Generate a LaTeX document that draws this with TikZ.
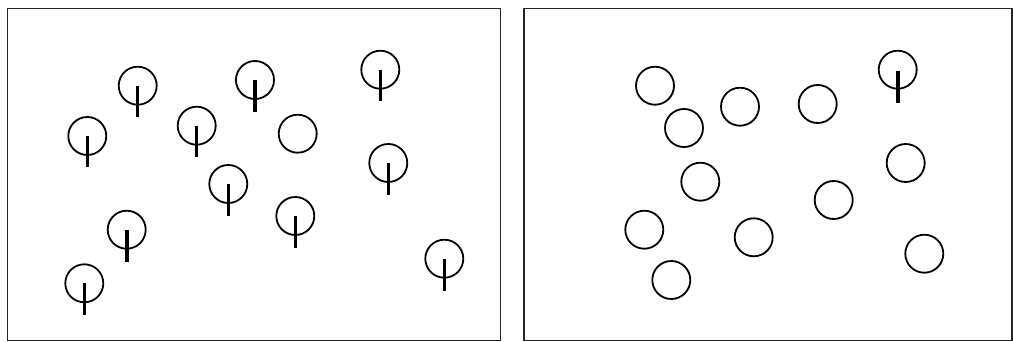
\documentclass[tikz,border=0pt]{standalone}
\usepackage{tikz}

\begin{document}
\begin{tikzpicture}[x=1pt, y=-1pt,
  panel/.style={draw=black!85, line width=1.5pt},
  ring/.style={circle, draw=black, line width=1.8pt, minimum size=38pt, inner sep=0pt},
  stem/.style={draw=black, line width=3pt},
  fatstem/.style={draw=black, line width=4pt},
]
  \useasboundingbox (0,0) rectangle (1013,342);

  % left panel
  \draw[panel] (7.5,8.5) rectangle (500.5,340.5);
  \node[ring] (a1)  at (137.7,85.7)  {};
  \node[ring] (a2)  at (87.3,136)    {};
  \node[ring] (a3)  at (196.7,125.7) {};
  \node[ring] (a4)  at (255,80)      {};
  \node[ring] (a5)  at (297.7,133.7) {};
  \node[ring] (a6)  at (380.3,69.7)  {};
  \node[ring] (a7)  at (388.3,163)   {};
  \node[ring] (a8)  at (228.3,184)   {};
  \node[ring] (a9)  at (295.3,216)   {};
  \node[ring] (a10) at (126.7,229.7) {};
  \node[ring] (a11) at (84.3,283.3)  {};
  \node[ring] (a12) at (444.3,258.7) {};

  % stems, left panel
  \draw[stem]    (a1.center)  -- ++(0,31);
  \draw[stem]    (a2.center)  -- ++(0,31);
  \draw[stem]    (a3.center)  -- ++(0,31);
  \draw[fatstem] (a4.center)  -- ++(0,32);
  \draw[stem]    (a6.center)  -- ++(0,31);
  \draw[stem]    (a7.center)  -- ++(0,32);
  \draw[stem]    (a8.center)  -- ++(0,32);
  \draw[stem]    (a9.center)  -- ++(0,32);
  \draw[fatstem] (a10.center) -- ++(0,32);
  \draw[stem]    (a11.center) -- ++(0,32);
  \draw[stem]    (a12.center) -- ++(0,32);

  % right panel
  \draw[panel] (524,8.5) rectangle (1012,340.5);
  \node[ring] (b1)  at (655,85.7)    {};
  \node[ring] (b2)  at (684,128)     {};
  \node[ring] (b3)  at (740,106.7)   {};
  \node[ring] (b4)  at (817.7,104)   {};
  \node[ring] (b5)  at (897.7,69.7)  {};
  \node[ring] (b6)  at (700.3,181.7) {};
  \node[ring] (b7)  at (905.7,163)   {};
  \node[ring] (b8)  at (833.7,200)   {};
  \node[ring] (b9)  at (644.3,229.7) {};
  \node[ring] (b10) at (753.7,237.3) {};
  \node[ring] (b11) at (924.3,253.7) {};
  \node[ring] (b12) at (671.3,280)   {};

  % the one stem left
  \draw[fatstem] ([yshift=-1.5pt]b5.center) -- ++(0,32);
\end{tikzpicture}
\end{document}
